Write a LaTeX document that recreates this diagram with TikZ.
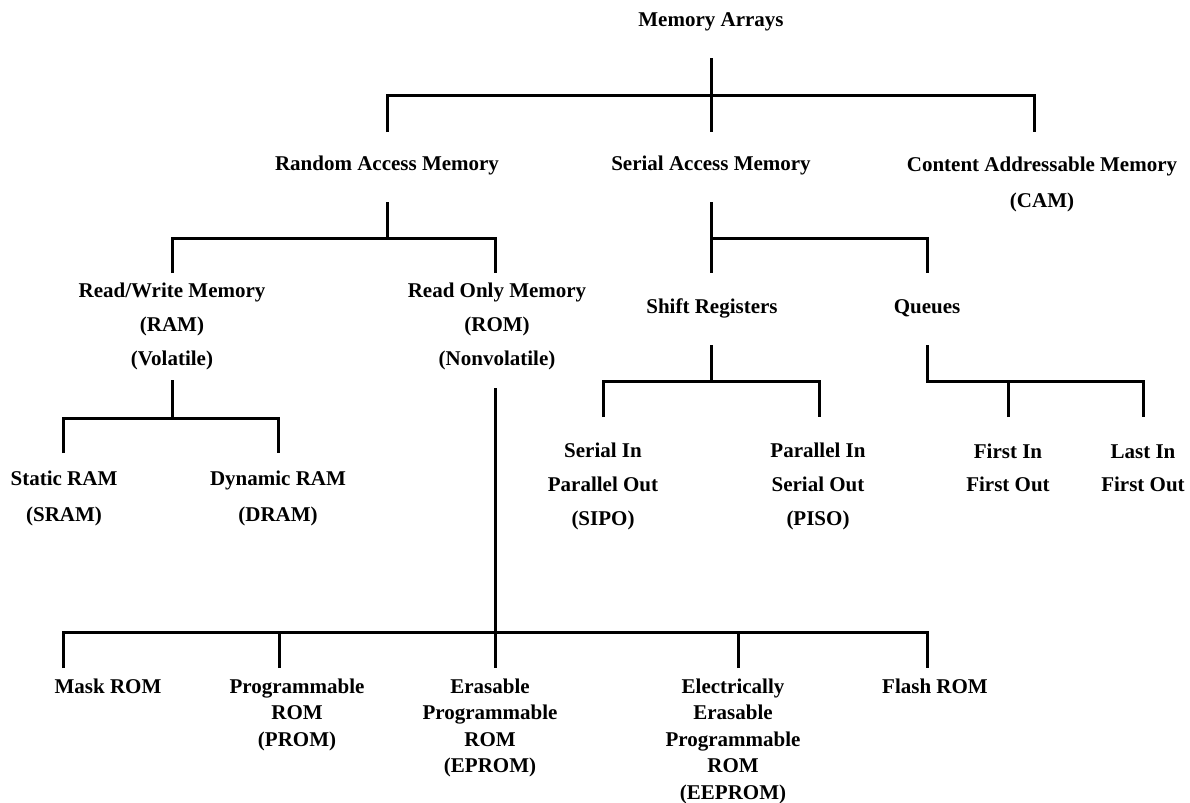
\documentclass[tikz,border=0pt]{standalone}
\usepackage{fontspec}
\setmainfont{Liberation Serif}
\usepackage{tikz}

\tikzset{
  tree/.style={line width=1.5pt},
  lbl/.style={font={\fontsize{10.5}{17}\selectfont\bfseries}, align=center, anchor=base, inner sep=0pt},
  leaf/.style={lbl, font={\fontsize{10.5}{13.25}\selectfont\bfseries}},
}

\begin{document}
\begin{tikzpicture}[x=0.5pt,y=-0.5pt]
	\useasboundingbox (0,0) rectangle (1190,803);

	% labels (placed by the baseline of their last line)
	\node[lbl] (arrays) at (711,26) {Memory Arrays};
	\node[lbl] (ram) at (387,170) {Random Access Memory};
	\node[lbl] (sam) at (711,170) {Serial Access Memory};
	\node[lbl, font={\fontsize{10.5}{18}\selectfont\bfseries}] (cam) at (1042,207) {Content Addressable Memory\\(CAM)};
	\node[lbl] (rw) at (172,365) {Read/Write Memory\\(RAM)\\(Volatile)};
	\node[lbl] (rom) at (497,365) {Read Only Memory\\(ROM)\\(Nonvolatile)};
	\node[lbl] (shift) at (712,313) {Shift Registers};
	\node[lbl] (queues) at (927,313) {Queues};
	\node[lbl, font={\fontsize{10.5}{18}\selectfont\bfseries}] (sram) at (64,521) {Static RAM\\(SRAM)};
	\node[lbl, font={\fontsize{10.5}{18}\selectfont\bfseries}] (dram) at (278,521) {Dynamic RAM\\(DRAM)};
	\node[lbl] (sipo) at (603,525) {Serial In\\Parallel Out\\(SIPO)};
	\node[lbl] (piso) at (818,525) {Parallel In\\Serial Out\\(PISO)};
	\node[lbl, font={\fontsize{10.5}{16.5}\selectfont\bfseries}] (fifo) at (1008,491) {First In\\First Out};
	\node[lbl, font={\fontsize{10.5}{16.5}\selectfont\bfseries}] (lifo) at (1143,491) {Last In\\First Out};
	\node[leaf] (mask) at (108,693) {Mask ROM};
	\node[leaf] (prom) at (297,746) {Programmable\\ROM\\(PROM)};
	\node[leaf] (eprom) at (490,772.5) {Erasable\\Programmable\\ROM\\(EPROM)};
	\node[leaf] (eeprom) at (733,799) {Electrically\\Erasable\\Programmable\\ROM\\(EEPROM)};
	\node[leaf] (flash) at (935,693) {Flash ROM};

	% forks and stub ends
	\coordinate (arrays-s) at (711,58);
	\coordinate (arrays-f) at (711,95);
	\coordinate (ram-n) at (387,132);
	\coordinate (sam-n) at (711,132);
	\coordinate (cam-n) at (1034,132);
	\coordinate (ram-s) at (387,202);
	\coordinate (rw-n) at (172,273);
	\coordinate (rom-n) at (495,273);
	\coordinate (sam-s) at (711,202);
	\coordinate (sam-f) at (711,238);
	\coordinate (shift-n) at (711,273);
	\coordinate (queues-n) at (927,273);
	\coordinate (rw-s) at (172,380);
	\coordinate (sram-n) at (63,453);
	\coordinate (dram-n) at (278,453);
	\coordinate (shift-s) at (711,345);
	\coordinate (sipo-n) at (603,417);
	\coordinate (piso-n) at (819,417);
	\coordinate (queues-s) at (927,345);
	\coordinate (queues-f) at (927,381);
	\coordinate (fifo-n) at (1008,417);
	\coordinate (lifo-n) at (1143,417);
	\coordinate (rom-s) at (495,388);
	\coordinate (mask-n) at (63,668);
	\coordinate (prom-n) at (279,668);
	\coordinate (eprom-n) at (495,668);
	\coordinate (eeprom-n) at (738,668);
	\coordinate (flash-n) at (927,668);

	% Memory Arrays
	\draw[tree] (arrays-s) -- (sam-n);
	\draw[tree] (ram-n) |- (arrays-f) -| (cam-n);
	% Random Access Memory
	\draw[tree] (ram-s) -- (ram-s |- 0,238);
	\draw[tree] (rw-n) |- (ram-s |- 0,238) -| (rom-n);
	% Serial Access Memory
	\draw[tree] (sam-s) -- (shift-n);
	\draw[tree] (sam-f) -| (queues-n);
	% Read/Write Memory
	\draw[tree] (rw-s) -- (rw-s |- 0,418);
	\draw[tree] (sram-n) |- (rw-s |- 0,418) -| (dram-n);
	% Shift Registers
	\draw[tree] (shift-s) -- (shift-s |- 0,381);
	\draw[tree] (sipo-n) |- (shift-s |- 0,381) -| (piso-n);
	% Queues
	\draw[tree] (queues-s) -- (queues-f) -| (lifo-n);
	\draw[tree] (fifo-n) -- (fifo-n |- queues-f);
	% Read Only Memory
	\draw[tree] (rom-s) -- (eprom-n);
	\draw[tree] (mask-n) |- (eprom-n |- 0,632) -| (flash-n);
	\foreach \leafpt in {prom-n,eeprom-n}
		\draw[tree] (\leafpt) -- (\leafpt |- 0,632);
\end{tikzpicture}
\end{document}
